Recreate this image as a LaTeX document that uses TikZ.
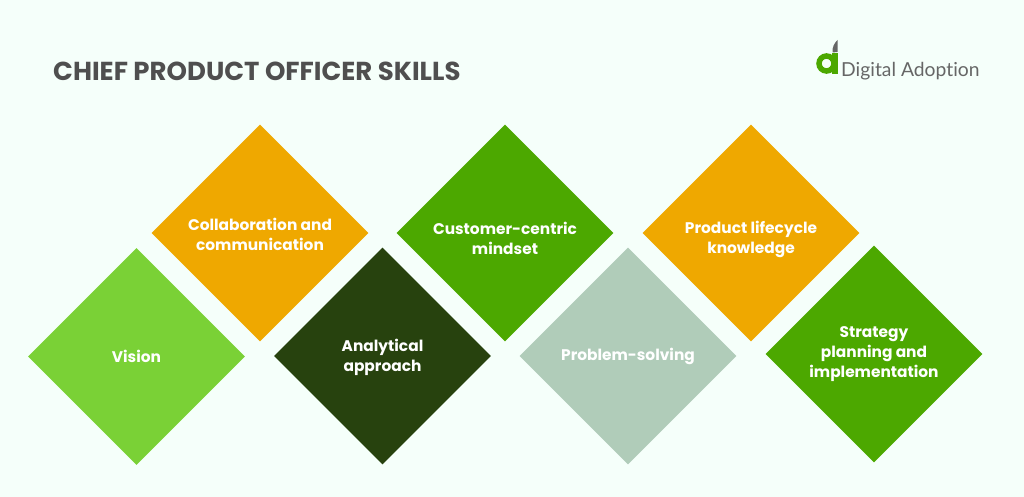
\documentclass[tikz,border=0pt]{standalone}
\usepackage{fontspec}
\setmainfont{Poppins}
\newfontfamily\logofont[Ligatures=NoCommon]{Lato}
\usetikzlibrary{shapes.geometric}
\definecolor{bgmint}{HTML}{F5FFFA}
\definecolor{titlegray}{HTML}{4F4F4F}
\definecolor{logogray}{HTML}{666666}
\definecolor{limegreen}{HTML}{7AD136}
\definecolor{amber}{HTML}{EFA800}
\definecolor{darkforest}{HTML}{27420E}
\definecolor{leafgreen}{HTML}{4CA800}
\definecolor{sage}{HTML}{B0CCB9}
\tikzset{
  skill/.style={diamond, aspect=1, minimum size=217pt, inner sep=0pt},
  skilltext/.style={inner sep=0pt, align=center, text=white, font=\fontsize{15.4}{20}\selectfont\bfseries},
}
\begin{document}
\begin{tikzpicture}[x=1pt, y=-1pt]
  \useasboundingbox[fill=bgmint] (0, 0) rectangle (1024, 497);

  \node[anchor=west, inner sep=0pt, text=titlegray, font=\fontsize{26}{30}\selectfont\bfseries] (T) at (53, 71) {CHIEF PRODUCT OFFICER SKILLS};

  \node[skill, fill=limegreen] (A) at (136.5, 356.5) {};
  \node[skill, fill=amber] (B) at (260, 233) {};
  \node[skill, fill=darkforest] (C) at (382.5, 356) {};
  \node[skill, fill=leafgreen] (D) at (505, 233) {};
  \node[skill, fill=sage] (E) at (628, 356) {};
  \node[skill, fill=amber] (F) at (751, 233) {};
  \node[skill, fill=leafgreen] (G) at (874, 354) {};

  \node[skilltext] (At) at (136.5, 356) {Vision};
  \node[skilltext] (Bt) at (260, 234.5) {Collaboration and\\communication};
  \node[skilltext] (Ct) at (382.5, 357) {Analytical\\approach};
  \node[skilltext] (Dt) at (505, 238) {Customer-centric\\mindset};
  \node[skilltext] (Et) at (628, 356) {Problem-solving};
  \node[skilltext] (Ft) at (751, 239) {Product lifecycle\\knowledge};
  \node[skilltext] (Gt) at (874, 354) {Strategy\\planning and\\implementation};

  % logo
  \draw[leafgreen, line width=5.5pt] (826.5, 63.5) circle (7.5);
  \fill[leafgreen] (832, 53.5) -- (837.5, 53.5) -- (837.5, 74) -- (832, 74) -- cycle;
  \fill[logogray] (832.5, 52.5) .. controls (832, 47) and (834.5, 43) .. (837.5, 40) -- (837.5, 52) -- cycle;
  \node[anchor=west, text=logogray, inner sep=0pt, font=\logofont\fontsize{19.3}{24}\selectfont] (L) at (841, 71.5) {Digital Adoption};
\end{tikzpicture}
\end{document}
